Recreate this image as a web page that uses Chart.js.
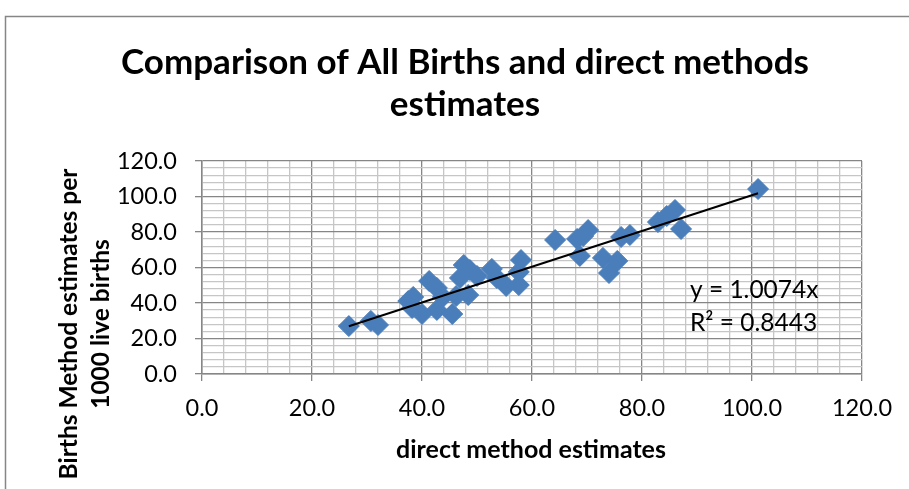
<!DOCTYPE html>
<html>
<head>
<meta charset="utf-8">
<script src="https://cdn.jsdelivr.net/npm/chart.js@4.4.1/dist/chart.umd.min.js"></script>
<style>
  body { margin: 0; background: #fff; overflow: hidden; }
</style>
</head>
<body>
<canvas id="myChart" width="909" height="489"></canvas>
<script>
// direct method estimates (x) vs all births method estimates (y)
const directEst = [26.7, 30.7, 32.0, 37.5, 38.4, 38.2, 40.0, 41.3, 42.7, 42.7,
  43.8, 45.5, 46.2, 46.9, 47.6, 48.7, 48.4, 50.0, 52.7, 53.6,
  55.3, 57.6, 57.6, 58.0, 64.2, 68.2, 69.3, 70.2, 68.7, 72.9,
  74.0, 75.5, 76.2, 77.8, 82.9, 84.5, 86.0, 87.1, 101.1]
const allBirthsEst = [27.0, 29.9, 27.6, 41.1, 43.4, 37.2, 33.8, 52.4, 48.5, 36.1,
  43.4, 33.8, 43.9, 54.1, 61.4, 58.6, 44.5, 55.2, 59.2, 54.1,
  49.6, 50.1, 57.5, 64.2, 75.5, 76.1, 77.7, 81.1, 66.5, 65.4,
  56.9, 63.7, 77.2, 78.3, 85.6, 89.0, 92.4, 81.7, 104.2]

const slope = 1.0074
const rSquared = '0.8443'

const xTickLabels = ['0.0', '20.0', '40.0', '60.0', '80.0', '100.0', '120.0']
const yTickLabels = ['0.0', '20.0', '40.0', '60.0', '80.0', '100.0', '120.0']

const points = directEst.map((x, i) => ({ x: x, y: allBirthsEst[i] }))
const xMin = Math.min(...directEst)
const xMax = Math.max(...directEst)
const trend = [{ x: xMin, y: slope * xMin }, { x: xMax, y: slope * xMax }]

const majorCol = '#868686'
const minorCol = '#c6c6c6'

// frame + texts that excel places by hand
const decorations = {
  id: 'decorations',
  beforeDraw(chart) {
    const { ctx } = chart
    ctx.save()
    ctx.fillStyle = '#fff'
    ctx.fillRect(0, 0, chart.width, chart.height)
    ctx.strokeStyle = majorCol
    ctx.lineWidth = 1.5
    ctx.strokeRect(5.5, 16.5, 1200, 1200)
    ctx.restore()
  },
  afterDraw(chart) {
    const { ctx } = chart
    ctx.save()
    ctx.fillStyle = '#000'
    ctx.textAlign = 'center'
    ctx.textBaseline = 'middle'
    ctx.font = 'bold 35px Lato'
    ctx.fillText('Comparison of All Births and direct methods', 465, 63)
    ctx.fillText('estimates', 465, 105)

    ctx.font = 'bold 25px Lato'
    ctx.fillText('direct method estimates', 531, 450)

    ctx.save()
    ctx.translate(69, 324)
    ctx.rotate(-Math.PI / 2)
    ctx.font = 'bold 24.5px Lato'
    ctx.fillText('Births Method estimates per', 0, 0)
    ctx.fillText('1000 live births', 0, 32)
    ctx.restore()

    ctx.textAlign = 'left'
    ctx.font = '24.5px Lato'
    ctx.fillText('y = ' + slope + 'x', 690, 290)
    ctx.fillText('R² = ' + rSquared, 690, 323)
    ctx.restore()
  }
}

function gridColor(c) {
  return c.tick && c.tick.value % 20 === 0 ? majorCol : minorCol
}
function tickColor(c) {
  return c.tick && c.tick.value % 20 === 0 ? majorCol : 'rgba(0,0,0,0)'
}

const ctx = document.getElementById('myChart')

new Chart(ctx, {
  type: 'scatter',
  plugins: [decorations],
  data: {
    datasets: [
      {
        label: 'Linear (trend)',
        data: trend,
        showLine: true,
        borderColor: '#000',
        borderWidth: 2,
        pointRadius: 0,
        order: 0
      },
      {
        label: 'Births Method estimates',
        data: points,
        pointStyle: 'rectRot',
        pointRadius: 10.5,
        backgroundColor: '#4a7ebb',
        borderColor: '#4a7ebb',
        borderWidth: 1,
        order: 1
      }
    ]
  },
  options: {
    responsive: false,
    animation: false,
    layout: { padding: { top: 161, right: 47, left: 0, bottom: 0 } },
    plugins: {
      legend: { display: false },
      tooltip: { enabled: false }
    },
    scales: {
      x: {
        type: 'linear',
        min: 0,
        max: 120,
        ticks: {
          stepSize: 4,
          autoSkip: false,
          maxRotation: 0,
          padding: 13,
          color: '#000',
          font: { family: 'Lato', size: 23.5 },
          callback: (v) => v % 20 === 0 ? xTickLabels[v / 20] : ''
        },
        grid: { color: gridColor, tickColor: tickColor, tickLength: 7, lineWidth: 1.3 },
        border: { color: majorCol, width: 1.5 },
        afterFit: (s) => { s.height = 115 }
      },
      y: {
        type: 'linear',
        min: 0,
        max: 120,
        ticks: {
          stepSize: 4,
          autoSkip: false,
          padding: 18,
          color: '#000',
          font: { family: 'Lato', size: 23.5 },
          callback: (v) => v % 20 === 0 ? yTickLabels[v / 20] : ''
        },
        grid: { color: gridColor, tickColor: tickColor, tickLength: 7, lineWidth: 1.3 },
        border: { color: majorCol, width: 1.5 },
        afterFit: (s) => { s.width = 202 }
      }
    }
  }
})
</script>
</body>
</html>
